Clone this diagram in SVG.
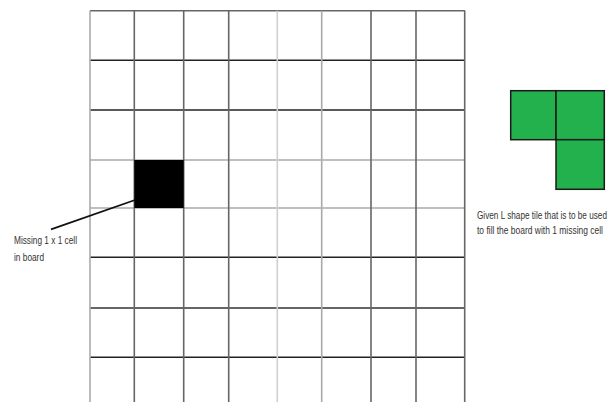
<svg xmlns="http://www.w3.org/2000/svg" width="609" height="402" viewBox="0 0 609 402">
<style>
.g line{stroke-width:1.6;fill:none}
.d{stroke:#222}
.m{stroke:#666}
.l{stroke:#aaa}
.vl{stroke:#cfcfcf}
.t{font-family:"Liberation Sans",Arial,sans-serif;font-size:10px;fill:#333}
.tile{fill:#22b14c;stroke:#1a1a1a;stroke-width:1.5}
</style>
<rect width="609" height="402" fill="#fff"/>
<g id="board" class="g">
  <line class="m" x1="90" y1="10.7" x2="465" y2="10.7"/>
  <line class="d" x1="90" y1="60.3" x2="465" y2="60.3"/>
  <line class="d" x1="90" y1="110" x2="465" y2="110"/>
  <line class="l" x1="90" y1="160" x2="465" y2="160"/>
  <line class="l" x1="90" y1="208" x2="465" y2="208"/>
  <line class="d" x1="90" y1="257.3" x2="465" y2="257.3"/>
  <line class="m" x1="90" y1="308" x2="465" y2="308" style="stroke-width:2"/>
  <line class="d" x1="90" y1="357.3" x2="465" y2="357.3"/>
  <line class="l" x1="90" y1="10.7" x2="90" y2="402"/>
  <line class="m" x1="134.3" y1="10.7" x2="134.3" y2="402"/>
  <line class="m" x1="183.7" y1="10.7" x2="183.7" y2="402"/>
  <line class="m" x1="228.7" y1="10.7" x2="228.7" y2="402"/>
  <line class="vl" x1="277.3" y1="10.7" x2="277.3" y2="402"/>
  <line class="l" x1="321.7" y1="10.7" x2="321.7" y2="402"/>
  <line class="m" x1="371" y1="10.7" x2="371" y2="402"/>
  <line class="m" x1="416" y1="10.7" x2="416" y2="402"/>
  <line class="m" x1="464.7" y1="10.7" x2="464.7" y2="402"/>
</g>
<g id="missing-cell">
  <rect x="134.3" y="160" width="49.4" height="48" fill="#000"/>
</g>
<g id="connectors">
  <line x1="51" y1="229.3" x2="135" y2="200" stroke="#111" stroke-width="1.8"/>
</g>
<g id="missing-label">
  <g transform="translate(14,244) scale(0.8,1)"><text class="t" x="0" y="0" textLength="78.75" lengthAdjust="spacingAndGlyphs">Missing 1 x 1 cell</text></g>
  <g transform="translate(14,261) scale(0.8,1)"><text class="t" x="0" y="0" textLength="37.5" lengthAdjust="spacingAndGlyphs">in board</text></g>
</g>
<g id="l-tile">
  <rect class="tile" x="510.7" y="90.7" width="45.3" height="49"/>
  <rect class="tile" x="556" y="90.7" width="48.3" height="49"/>
  <rect class="tile" x="556" y="139.7" width="48.3" height="49.6"/>
</g>
<g id="tile-label">
  <g transform="translate(477,219) scale(0.79,1)"><text class="t" x="0" y="0" textLength="164.5" lengthAdjust="spacingAndGlyphs">Given L shape tile that is to be used</text></g>
  <g transform="translate(477,234) scale(0.79,1)"><text class="t" x="0" y="0" textLength="159.5" lengthAdjust="spacingAndGlyphs">to fill the board with 1 missing cell</text></g>
</g>
</svg>
